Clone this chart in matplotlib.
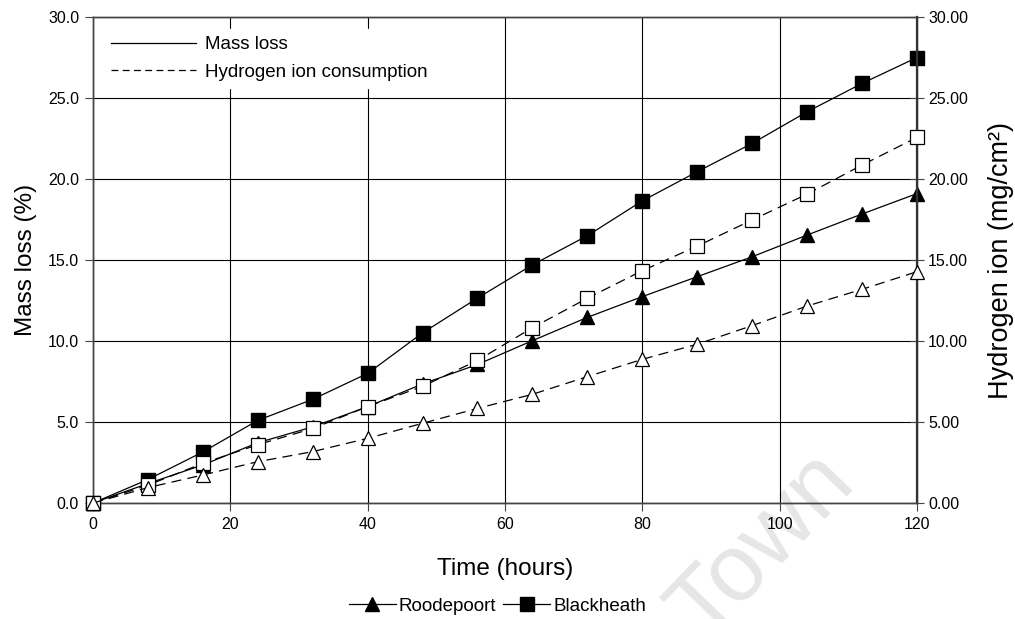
import matplotlib
matplotlib.use("Agg")
import matplotlib.pyplot as plt
from matplotlib.lines import Line2D
from matplotlib.ticker import FormatStrFormatter, MultipleLocator

plt.rcParams['font.family'] = ['Liberation Sans', 'DejaVu Sans']

# Data
hours = [0, 8, 16, 24, 32, 40, 48, 56, 64, 72, 80, 88, 96, 104, 112, 120]
black_mass = [0.0, 1.45, 3.15, 5.1, 6.4, 8.0, 10.5, 12.65, 14.7, 16.5, 18.65, 20.45, 22.2, 24.15, 25.9, 27.5]
black_h = [0.0, 1.1, 2.45, 3.6, 4.6, 5.95, 7.2, 8.8, 10.82, 12.64, 14.34, 15.86, 17.47, 19.07, 20.86, 22.57]
roode_mass = [0.0, 1.2, 2.35, 3.72, 4.7, 5.95, 7.35, 8.55, 10.02, 11.46, 12.74, 13.97, 15.2, 16.54, 17.84, 19.1]
roode_h = [0.0, 0.95, 1.73, 2.55, 3.17, 3.99, 4.92, 5.84, 6.71, 7.8, 8.87, 9.8, 10.95, 12.16, 13.19, 14.28]

fig = plt.figure(figsize=(10.15, 6.19), dpi=100)
ax = fig.add_axes([0.0916, 0.1874, 0.8118, 0.7851])
ax2 = ax.twinx()
ax.patch.set_alpha(0)

lw = 0.9
ms = 9.5
dash = (8, 5)
ax.plot(hours, black_mass, '-', color='black', lw=lw, marker='s', ms=ms, mfc='black',
        zorder=5, clip_on=False)
ax.plot(hours, roode_mass, '-', color='black', lw=lw, marker='^', ms=ms, mfc='black',
        zorder=5, clip_on=False)
ax2.plot(hours, black_h, '--', color='black', lw=lw, dashes=dash, marker='s', ms=ms,
         mfc='white', mec='black', mew=0.9, zorder=5, clip_on=False)
ax2.plot(hours, roode_h, '--', color='black', lw=lw, dashes=dash, marker='^', ms=ms,
         mfc='white', mec='black', mew=0.9, zorder=5, clip_on=False)

ax.set_xlim(0, 120)
ax.set_ylim(0, 30)
ax2.set_ylim(0, 30)
ax.xaxis.set_major_locator(MultipleLocator(20))
ax.yaxis.set_major_locator(MultipleLocator(5))
ax2.yaxis.set_major_locator(MultipleLocator(5))
ax.yaxis.set_major_formatter(FormatStrFormatter('%.1f'))
ax2.yaxis.set_major_formatter(FormatStrFormatter('%.2f'))

ax.grid(True, color='black', lw=0.8)
ax.set_axisbelow(True)
for a in (ax, ax2):
    for s in a.spines.values():
        s.set_color('#444444')
        s.set_linewidth(1.0)
ax2.spines['right'].set_linewidth(1.6)
ax2.spines['right'].set_color('#333333')

ax.tick_params(axis='both', labelsize=11.5, length=6, width=0.8, color='#444444',
               direction='out', pad=4)
ax2.tick_params(axis='y', labelsize=11.5, length=10, width=0.8, color='#444444',
                direction='inout', pad=3)

ax.set_xlabel('Time (hours)', fontsize=17.5, labelpad=19)
ax.set_ylabel('Mass loss (%)', fontsize=17.5, labelpad=8)
ax2.set_ylabel('Hydrogen ion (mg/cm²)', fontsize=19.5, labelpad=14)

# legend for line style
style_handles = [Line2D([], [], color='black', lw=0.9, ls='-'),
                 Line2D([], [], color='black', lw=0.9, ls='--', dashes=(5.5, 3.5))]
leg = ax2.legend(style_handles, ['Mass loss', 'Hydrogen ion consumption'], loc='upper left',
                 bbox_to_anchor=(0.002, 0.995), fontsize=13.5, handlelength=4.5, handletextpad=0.5,
                 labelspacing=0.55, frameon=True, fancybox=False, borderpad=0.4)
leg.get_frame().set_facecolor('white')
leg.get_frame().set_edgecolor('white')
leg.get_frame().set_alpha(1)

# legend for site
site_handles = [Line2D([], [], color='black', lw=0.9, marker='^', ms=10),
                Line2D([], [], color='black', lw=0.9, marker='s', ms=10)]
fig.legend(site_handles, ['Roodepoort', 'Blackheath'], loc='center', bbox_to_anchor=(0.49, 0.021),
           ncol=2, fontsize=13.5, frameon=False, handlelength=2.5, handletextpad=0.15,
           columnspacing=0.4)

# faint watermark from the source image
fig.text(0.752, 0.118, 'Town', fontsize=68, color='#e6e6e6', rotation=46,
         ha='center', va='center', zorder=-1)

fig.savefig('out.png', dpi=100)
